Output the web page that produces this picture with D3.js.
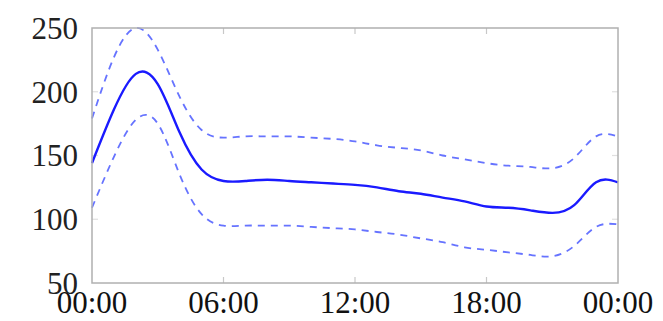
<!DOCTYPE html>
<html>
<head>
<meta charset="utf-8">
<script src="https://cdn.jsdelivr.net/npm/d3@7"></script>
<style>
  body { margin: 0; background: #fff; }
  text { font-family: "Liberation Serif", "DejaVu Serif", serif; }
</style>
</head>
<body>
<div id="chart"></div>
<script>
const width = 663,
      height = 321;

const margin = { top: 28, right: 45, bottom: 38, left: 92 };

// hours of day, 0..24
const hours = [0, 1, 2, 3, 4, 5, 6, 7, 8, 9, 10, 11, 12, 13, 14, 15, 16, 17, 18, 19, 20, 21, 22, 23, 24];

const meanValues  = [144, 186, 214, 206, 168, 139, 130, 130, 131, 130, 129, 128, 127, 125, 122, 120, 117, 114, 110, 109, 107, 105, 111, 129, 129];
const upperValues = [179, 227, 250, 233, 196, 170, 164, 165, 165, 165, 164, 163, 161, 158, 156, 154, 150, 147, 144, 142, 141, 140, 148, 165, 165];
const lowerValues = [109, 149, 178, 175, 135, 104, 95, 95, 95, 95, 94, 93, 92, 90, 88, 85, 82, 78, 76, 74, 72, 71, 79, 94, 96];

const xTicks = [0, 6, 12, 18, 24];
const xTickLabels = ["00:00", "06:00", "12:00", "18:00", "00:00"];
const yTicks = [50, 100, 150, 200, 250];

const x = d3.scaleLinear()
    .domain([0, 24])
    .range([margin.left, width - margin.right]);

const y = d3.scaleLinear()
    .domain([50, 250])
    .range([height - margin.bottom, margin.top]);

const svg = d3.select("#chart")
  .append("svg")
    .attr("width", width)
    .attr("height", height);

// tick marks, inside the frame on all four sides
const tickLen = 6;
svg.append("g")
  .selectAll("line")
  .data(xTicks.slice(1, -1))
  .enter()
  .append("line")
    .attr("x1", d => x(d)).attr("x2", d => x(d))
    .attr("y1", y(50)).attr("y2", y(50) - tickLen)
    .attr("stroke", "#c8c8c8").attr("stroke-width", 1.2);

svg.append("g")
  .selectAll("line")
  .data(xTicks.slice(1, -1))
  .enter()
  .append("line")
    .attr("x1", d => x(d)).attr("x2", d => x(d))
    .attr("y1", y(250)).attr("y2", y(250) + tickLen)
    .attr("stroke", "#c8c8c8").attr("stroke-width", 1.2);

svg.append("g")
  .selectAll("line")
  .data(yTicks.slice(1, -1))
  .enter()
  .append("line")
    .attr("x1", x(0)).attr("x2", x(0) + tickLen)
    .attr("y1", d => y(d)).attr("y2", d => y(d))
    .attr("stroke", "#e0e0e0").attr("stroke-width", 1.2);

svg.append("g")
  .selectAll("line")
  .data(yTicks.slice(1, -1))
  .enter()
  .append("line")
    .attr("x1", x(24)).attr("x2", x(24) - tickLen)
    .attr("y1", d => y(d)).attr("y2", d => y(d))
    .attr("stroke", "#e0e0e0").attr("stroke-width", 1.2);

// lines
const line = vals => d3.line()
    .x((d, i) => x(hours[i]))
    .y(d => y(d))
    .curve(d3.curveNatural)(vals);

[upperValues, lowerValues].forEach(vals => {
  svg.append("path")
      .attr("d", line(vals))
      .attr("fill", "none")
      .attr("stroke", "#3344ff")
      .attr("stroke-opacity", 0.75)
      .attr("stroke-width", 1.8)
      .attr("stroke-dasharray", "7,6");
});

svg.append("path")
    .attr("d", line(meanValues))
    .attr("fill", "none")
    .attr("stroke", "#1a1aff")
    .attr("stroke-width", 2.4);

// frame
svg.append("rect")
    .attr("x", x(0))
    .attr("y", y(250))
    .attr("width", x(24) - x(0))
    .attr("height", y(50) - y(250))
    .attr("fill", "none")
    .attr("stroke", "#b0b0b0")
    .attr("stroke-width", 1.5);

// y labels
svg.append("g")
  .selectAll("text")
  .data(yTicks)
  .enter()
  .append("text")
    .attr("x", x(0) - 14)
    .attr("y", d => y(d))
    .attr("dy", "0.35em")
    .attr("text-anchor", "end")
    .attr("fill", "#222")
    .style("font-size", "31px")
    .text(d => d);

// x labels
svg.append("g")
  .selectAll("text")
  .data(xTicks)
  .enter()
  .append("text")
    .attr("x", d => x(d))
    .attr("y", 313)
    .attr("text-anchor", "middle")
    .attr("fill", "#111")
    .style("font-size", "31px")
    .text((d, i) => xTickLabels[i]);
</script>
</body>
</html>
